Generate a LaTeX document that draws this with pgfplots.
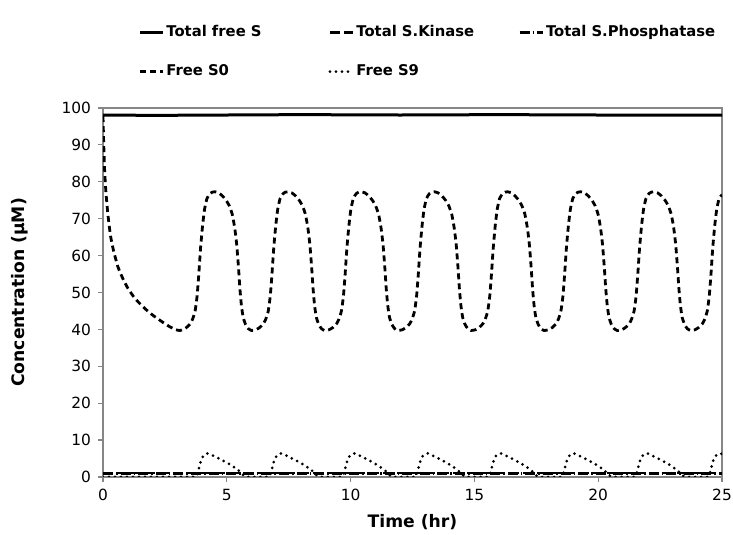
\documentclass[border=0pt]{standalone}
\usepackage{fontspec}
\setmainfont{DejaVu Sans}
\usepackage{pgfplots}
\pgfplotsset{compat=1.18}
\definecolor{axgray}{RGB}{134,134,134}
\begin{document}
\begin{tikzpicture}
\begin{axis}[
  at={(0,0)}, anchor=south west,
  scale only axis, width=309.5pt, height=184.5pt,
  xmin=0, xmax=25, ymin=0, ymax=100,
  xtick={0,5,...,25}, ytick={0,10,...,100},
  tick align=outside, xtick pos=lower, ytick pos=left,
  major tick length=2.5pt,
  axis line style={axgray, line width=0.6pt},
  every tick/.style={axgray, line width=0.6pt},
  tick label style={font=\fontsize{7.7}{9}\selectfont},
  /pgf/number format/assume math mode=true,
  xlabel={Time (hr)}, ylabel={Concentration (μM)},
  label style={font=\fontsize{8.6}{10}\selectfont\bfseries},
  xlabel style={at={(axis description cs:0.5,-0.122)}, anchor=center},
  ylabel style={at={(axis description cs:-0.134,0.5)}, anchor=center},
  legend columns=3,
  legend cell align=left,
  legend image code/.code={\draw[#1] (0pt,0pt) -- (11.5pt,0pt);},
  legend style={draw=none, fill=none, inner sep=0pt,
    at={(axis description cs:0,1)}, anchor=south west, xshift=17.5pt, yshift=13.5pt,
    font=\fontsize{7.4}{9}\selectfont\bfseries,
    nodes={inner sep=1pt, text depth=0.15em},
    /tikz/every even column/.style={column sep=0pt},
    row sep=10.5pt},
]
% Total free S
\addplot[black, line width=1.5pt] coordinates {
(0,98.1) (2,98.0) (5,98.1) (8,98.2) (12,98.1) (16,98.2) (20,98.1) (25,98.1)};
\addlegendentry{\makebox[80pt][l]{Total free S}}
% Total S.Kinase
\addplot[black, line width=1.3pt, dash pattern=on 5pt off 2pt] coordinates {
(0,1.1) (5,1.1) (10,1.1) (15,1.1) (20,1.1) (25,1.1)};
\addlegendentry{\makebox[80pt][l]{Total S.Kinase}}
% Total S.Phosphatase
\addplot[black, line width=1.3pt, dash pattern=on 5pt off 1.5pt on 0.8pt off 1.5pt] coordinates {
(0,0.9) (5,0.9) (10,0.9) (15,0.9) (20,0.9) (25,0.9)};
\addlegendentry{\makebox[80pt][l]{Total S.Phosphatase}}
% Free S0
\addplot[black, line width=1.4pt, dash pattern=on 3pt off 2pt, smooth, tension=0.3] coordinates {
(0,97.8) (0.03,90) (0.07,82.5) (0.12,77) (0.2,71) (0.3,65.5) (0.42,61.5) (0.6,57) (0.8,53.8) (1.0,51.2) (1.3,48.3) (1.7,45.6) (2.0,43.9) (2.4,42) (2.7,40.7) (2.95,39.9) (3.1,39.7) (3.25,40.0)
(3.37,40.5) (3.52,41.5) (3.62,42.8) (3.72,45.0) (3.80,49) (3.87,55) (3.94,62) (4.02,68) (4.10,72.5) (4.20,75.5) (4.32,76.8) (4.42,77.2) (4.52,77.3) (4.67,77.0) (4.82,76.2) (4.97,75.0) (5.10,73.5) (5.22,71.2) (5.32,67.5) (5.40,63) (5.47,57) (5.53,51) (5.59,46.5) (5.66,43.3) (5.76,41.3) (5.87,40.2)
(5.995,39.7) (6.175,39.9) (6.325,40.5) (6.475,41.5) (6.575,42.8) (6.675,45.0) (6.755,49) (6.825,55) (6.895,62) (6.975,68) (7.055,72.5) (7.155,75.5) (7.275,76.8) (7.375,77.2) (7.475,77.3) (7.625,77.0) (7.775,76.2) (7.925,75.0) (8.055,73.5) (8.175,71.2) (8.275,67.5) (8.355,63) (8.425,57) (8.485,51) (8.545,46.5) (8.615,43.3) (8.715,41.3) (8.825,40.2)
(8.95,39.7) (9.13,39.9) (9.28,40.5) (9.43,41.5) (9.53,42.8) (9.63,45.0) (9.71,49) (9.78,55) (9.85,62) (9.93,68) (10.01,72.5) (10.11,75.5) (10.23,76.8) (10.33,77.2) (10.43,77.3) (10.58,77.0) (10.73,76.2) (10.88,75.0) (11.01,73.5) (11.13,71.2) (11.23,67.5) (11.31,63) (11.38,57) (11.44,51) (11.50,46.5) (11.57,43.3) (11.67,41.3) (11.78,40.2)
(11.905,39.7) (12.085,39.9) (12.235,40.5) (12.385,41.5) (12.485,42.8) (12.585,45.0) (12.665,49) (12.735,55) (12.805,62) (12.885,68) (12.965,72.5) (13.065,75.5) (13.185,76.8) (13.285,77.2) (13.385,77.3) (13.535,77.0) (13.685,76.2) (13.835,75.0) (13.965,73.5) (14.085,71.2) (14.185,67.5) (14.265,63) (14.335,57) (14.395,51) (14.455,46.5) (14.525,43.3) (14.625,41.3) (14.735,40.2)
(14.86,39.7) (15.04,39.9) (15.19,40.5) (15.34,41.5) (15.44,42.8) (15.54,45.0) (15.62,49) (15.69,55) (15.76,62) (15.84,68) (15.92,72.5) (16.02,75.5) (16.14,76.8) (16.24,77.2) (16.34,77.3) (16.49,77.0) (16.64,76.2) (16.79,75.0) (16.92,73.5) (17.04,71.2) (17.14,67.5) (17.22,63) (17.29,57) (17.35,51) (17.41,46.5) (17.48,43.3) (17.58,41.3) (17.69,40.2)
(17.815,39.7) (17.995,39.9) (18.145,40.5) (18.295,41.5) (18.395,42.8) (18.495,45.0) (18.575,49) (18.645,55) (18.715,62) (18.795,68) (18.875,72.5) (18.975,75.5) (19.095,76.8) (19.195,77.2) (19.295,77.3) (19.445,77.0) (19.595,76.2) (19.745,75.0) (19.875,73.5) (19.995,71.2) (20.095,67.5) (20.175,63) (20.245,57) (20.305,51) (20.365,46.5) (20.435,43.3) (20.535,41.3) (20.645,40.2)
(20.77,39.7) (20.95,39.9) (21.10,40.5) (21.25,41.5) (21.35,42.8) (21.45,45.0) (21.53,49) (21.60,55) (21.67,62) (21.75,68) (21.83,72.5) (21.93,75.5) (22.05,76.8) (22.15,77.2) (22.25,77.3) (22.40,77.0) (22.55,76.2) (22.70,75.0) (22.83,73.5) (22.95,71.2) (23.05,67.5) (23.13,63) (23.20,57) (23.26,51) (23.32,46.5) (23.39,43.3) (23.49,41.3) (23.60,40.2)
(23.725,39.7) (23.905,39.9) (24.055,40.5) (24.205,41.5) (24.305,42.8) (24.405,45.0) (24.485,49) (24.555,55) (24.625,62) (24.705,68) (24.785,72.5) (24.885,75.5) (25.0,76.5)};
\addlegendentry{Free S0}
% Free S9
\addplot[black, line width=1.5pt, line cap=round, dash pattern=on 0pt off 3pt] coordinates {
(0,0) (3.72,0) (3.80,0.5) (3.87,2.2) (3.95,4.3) (4.05,5.7) (4.17,6.3) (4.25,6.4) (4.42,5.9) (4.66,5.1) (5.06,3.7) (5.46,1.9) (5.62,0.8) (5.72,0.2) (5.82,0)
(6.675,0) (6.755,0.5) (6.825,2.2) (6.905,4.3) (7.005,5.7) (7.125,6.3) (7.205,6.4) (7.375,5.9) (7.615,5.1) (8.015,3.7) (8.415,1.9) (8.575,0.8) (8.675,0.2) (8.775,0)
(9.63,0) (9.71,0.5) (9.78,2.2) (9.86,4.3) (9.96,5.7) (10.08,6.3) (10.16,6.4) (10.33,5.9) (10.57,5.1) (10.97,3.7) (11.37,1.9) (11.53,0.8) (11.63,0.2) (11.73,0)
(12.585,0) (12.665,0.5) (12.735,2.2) (12.815,4.3) (12.915,5.7) (13.035,6.3) (13.115,6.4) (13.285,5.9) (13.525,5.1) (13.925,3.7) (14.325,1.9) (14.485,0.8) (14.585,0.2) (14.685,0)
(15.54,0) (15.62,0.5) (15.69,2.2) (15.77,4.3) (15.87,5.7) (15.99,6.3) (16.07,6.4) (16.24,5.9) (16.48,5.1) (16.88,3.7) (17.28,1.9) (17.44,0.8) (17.54,0.2) (17.64,0)
(18.495,0) (18.575,0.5) (18.645,2.2) (18.725,4.3) (18.825,5.7) (18.945,6.3) (19.025,6.4) (19.195,5.9) (19.435,5.1) (19.835,3.7) (20.235,1.9) (20.395,0.8) (20.495,0.2) (20.595,0)
(21.45,0) (21.53,0.5) (21.60,2.2) (21.68,4.3) (21.78,5.7) (21.90,6.3) (21.98,6.4) (22.15,5.9) (22.39,5.1) (22.79,3.7) (23.19,1.9) (23.35,0.8) (23.45,0.2) (23.55,0)
(24.405,0) (24.485,0.5) (24.555,2.2) (24.635,4.3) (24.735,5.7) (24.855,6.3) (24.935,6.4) (25.0,6.2)};
\addlegendentry{Free S9}
\end{axis}
\pgfresetboundingbox
\path[use as bounding box] (-51.5pt,-29pt) rectangle (315pt,238.5pt);
\end{tikzpicture}
\end{document}
